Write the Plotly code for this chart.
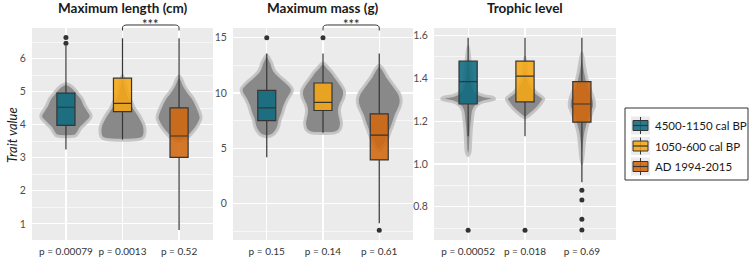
import plotly.graph_objects as go

# ---------------- data ----------------
groups = ["4500-1150 cal BP", "1050-600 cal BP", "AD 1994-2015"]
box_colors = ["rgba(14,106,128,0.88)", "rgba(245,166,20,0.88)", "rgba(210,102,14,0.88)"]
panel_titles = ["Maximum length (cm)", "Maximum mass (g)", "Trophic level"]
p_labels = [
    ["p = 0.00079", "p = 0.0013", "p = 0.52"],
    ["p = 0.15", "p = 0.14", "p = 0.61"],
    ["p = 0.00052", "p = 0.018", "p = 0.69"],
]
cat_pos = [1, 2, 3]

# box statistics (one value per group)
len_q1 = [3.98, 4.40, 3.01]
len_med = [4.53, 4.65, 3.66]
len_q3 = [4.96, 5.41, 4.51]
len_lo = [3.25, 3.55, 0.81]
len_hi = [6.40, 6.62, 6.62]
len_out = [[6.47, 6.64], [], []]

mass_q1 = [7.50, 8.42, 3.95]
mass_med = [8.66, 9.16, 6.19]
mass_q3 = [10.23, 10.90, 8.12]
mass_lo = [4.20, 6.40, -1.76]
mass_hi = [13.57, 13.57, 13.57]
mass_out = [[15.0], [15.0], [-2.41]]

tl_q1 = [1.28, 1.29, 1.195]
tl_med = [1.385, 1.41, 1.28]
tl_q3 = [1.48, 1.48, 1.385]
tl_lo = [1.13, 1.13, 0.915]
tl_hi = [1.59, 1.59, 1.59]
tl_out = [[0.69], [0.69], [0.877, 0.832, 0.742, 0.692]]

# violin outlines: value levels and half-widths (pixels at 56.5 px per category)
len_vio_y = [
    [3.64, 3.66, 3.75, 3.9, 4.05, 4.2, 4.3, 4.45, 4.6, 4.8, 4.95, 5.1, 5.2, 5.24],
    [3.53, 3.56, 3.65, 3.8, 3.95, 4.1, 4.3, 4.5, 4.7, 4.9, 5.1, 5.3, 5.5],
    [3.5, 3.6, 3.75, 3.9, 4.05, 4.2, 4.35, 4.5, 4.7, 4.85, 5.0, 5.2, 5.35, 5.48],
]
len_vio_w = [
    [0, 9, 12, 15, 20, 24.5, 25, 22, 19, 16, 12, 8, 4, 0],
    [0, 17, 21.5, 22.5, 22, 20, 16.5, 12, 9, 6, 4, 2.5, 0],
    [0, 8, 13, 17, 20, 22, 21, 19, 16, 13, 9, 5, 3, 0],
]
mass_vio_y = [
    [6.05, 6.2, 6.6, 7.0, 7.6, 8.2, 8.8, 9.4, 10.0, 10.4, 10.8, 11.2, 11.6, 12.0, 12.4, 12.8, 13.4],
    [6.35, 6.4, 6.7, 7.2, 7.6, 8.0, 8.5, 9.0, 9.6, 10.2, 10.8, 11.4, 11.8, 12.2, 12.7],
    [4.8, 5.2, 5.8, 6.5, 7.2, 8.0, 8.8, 9.4, 10.0, 10.5, 11.0, 11.5, 12.0, 12.5],
]
mass_vio_w = [
    [0, 6, 10, 12, 13.5, 16, 18, 21, 25, 25.5, 22, 17, 12, 8, 6, 4.5, 0],
    [0, 12, 17, 18.5, 18, 17, 16.5, 18, 21, 21.5, 18, 13, 10, 6, 0],
    [0, 4, 8, 11, 14, 17, 21, 22, 20, 16, 12, 8, 5, 0],
]
tl_vio_y = [
    [1.04, 1.06, 1.1, 1.15, 1.2, 1.25, 1.275, 1.29, 1.3, 1.31, 1.32, 1.335, 1.36, 1.4, 1.45, 1.5, 1.55],
    [1.215, 1.23, 1.25, 1.27, 1.29, 1.305, 1.32, 1.34, 1.37, 1.4, 1.45, 1.5],
    [1.0, 1.05, 1.1, 1.15, 1.2, 1.24, 1.27, 1.3, 1.34, 1.38, 1.42, 1.46, 1.52],
]
tl_vio_w = [
    [0, 2, 2.5, 3, 4, 5.5, 9, 15, 25, 25, 15, 8, 5, 3.5, 2.5, 1.5, 0],
    [0, 5, 10, 14, 17, 18.5, 15, 10, 6, 3, 1.5, 0],
    [0, 1.5, 2.5, 4, 7, 10, 12.5, 12, 9, 6, 4, 2.5, 0],
]

panels = [
    dict(q1=len_q1, med=len_med, q3=len_q3, lo=len_lo, hi=len_hi, out=len_out,
         vy=len_vio_y, vw=len_vio_w, yrange=[0.51, 6.93], dtick=1, tick0=0, minor=0.5,
         fmt=""),
    dict(q1=mass_q1, med=mass_med, q3=mass_q3, lo=mass_lo, hi=mass_hi, out=mass_out,
         vy=mass_vio_y, vw=mass_vio_w, yrange=[-3.28, 15.87], dtick=5, tick0=0, minor=2.5,
         fmt=""),
    dict(q1=tl_q1, med=tl_med, q3=tl_q3, lo=tl_lo, hi=tl_hi, out=tl_out,
         vy=tl_vio_y, vw=tl_vio_w, yrange=[0.645, 1.635], dtick=0.2, tick0=0, minor=0.1,
         fmt=".1f"),
]

PX_PER_CAT = 56.5
W, H = 750, 257
panel_px = [(32, 213), (233, 413), (434, 616)]
top_px, bot_px = 28, 240
FONT = "Lato"

fig = go.Figure()


def smooth_path(pts):
    # closed Catmull-Rom spline through points -> SVG path
    n = len(pts)
    d = "M %.5f,%.5f" % pts[0]
    for i in range(n):
        p0 = pts[(i - 1) % n]
        p1 = pts[i]
        p2 = pts[(i + 1) % n]
        p3 = pts[(i + 2) % n]
        c1 = (p1[0] + (p2[0] - p0[0]) / 6, p1[1] + (p2[1] - p0[1]) / 6)
        c2 = (p2[0] - (p3[0] - p1[0]) / 6, p2[1] - (p3[1] - p1[1]) / 6)
        d += " C %.5f,%.5f %.5f,%.5f %.5f,%.5f" % (c1[0], c1[1], c2[0], c2[1], p2[0], p2[1])
    return d + " Z"


def px(x):
    return x / W


def py(y):
    return 1 - y / H


shapes = []
annotations = []
for pi, P in enumerate(panels):
    sfx = "" if pi == 0 else str(pi + 1)
    xa, ya = "x" + sfx, "y" + sfx
    # violins (as shapes between grid and traces)
    for gi in range(3):
        c = cat_pos[gi]
        ys, ws = P["vy"][gi], P["vw"][gi]
        right = [(c + w / PX_PER_CAT, y) for y, w in zip(ys, ws)]
        left = [(c - w / PX_PER_CAT, y) for y, w in zip(ys, ws)][1:-1][::-1]
        pts = right + left
        shapes.append(dict(type="path", path=smooth_path(pts), xref=xa, yref=ya,
                           fillcolor="rgba(128,128,128,0.92)",
                           line=dict(color="rgba(196,196,196,0.95)", width=3),
                           layer="between"))
    # boxes
    for gi in range(3):
        fig.add_trace(go.Box(
            x=[cat_pos[gi]], q1=[P["q1"][gi]], median=[P["med"][gi]], q3=[P["q3"][gi]],
            lowerfence=[P["lo"][gi]], upperfence=[P["hi"][gi]],
            width=0.32, whiskerwidth=0, boxpoints=False,
            fillcolor=box_colors[gi], line=dict(color="#353535", width=1.2),
            name=groups[gi], legendgroup=groups[gi], showlegend=False,
            xaxis=xa, yaxis=ya, hoverinfo="skip"))
    # outliers
    for gi in range(3):
        if P["out"][gi]:
            fig.add_trace(go.Scatter(
                x=[cat_pos[gi]] * len(P["out"][gi]), y=P["out"][gi], mode="markers",
                marker=dict(color="#333333", size=5), showlegend=False,
                xaxis=xa, yaxis=ya, hoverinfo="skip"))
    x0, x1 = panel_px[pi]
    dom = [px(x0), px(x1)]
    fig.layout["xaxis" + sfx] = dict(
        domain=dom, anchor=ya, range=[0.4, 3.6], tickvals=cat_pos, ticktext=p_labels[pi],
        showgrid=True, gridcolor="white", gridwidth=1.2, zeroline=False,
        ticks="outside", ticklen=2, tickcolor="rgba(0,0,0,0)", tickangle=0,
        automargin=False,
        tickfont=dict(family=FONT, size=10, color="#333333"), fixedrange=True)
    fig.layout["yaxis" + sfx] = dict(
        domain=[py(bot_px), py(top_px)], anchor=xa, range=P["yrange"],
        dtick=P["dtick"], tick0=P["tick0"], tickformat=P["fmt"], showgrid=True,
        gridcolor="white", gridwidth=1.2, zeroline=False, ticks="outside", ticklen=3,
        tickcolor="rgba(0,0,0,0)", automargin=False,
        minor=dict(dtick=P["minor"], tick0=0, showgrid=True, gridcolor="white", gridwidth=0.6),
        tickfont=dict(family=FONT, size=10.5, color="#4d4d4d"), fixedrange=True)
    # panel background
    shapes.append(dict(type="rect", xref="paper", yref="paper", x0=dom[0], x1=dom[1],
                       y0=py(bot_px), y1=py(top_px), fillcolor="#ebebeb",
                       line=dict(width=0), layer="below"))
    annotations.append(dict(text="<b>%s</b>" % panel_titles[pi], x=(dom[0] + dom[1]) / 2,
                            y=py(8), xref="paper", yref="paper", showarrow=False,
                            xanchor="center", yanchor="middle",
                            font=dict(family=FONT, size=13.5, color="#1a1a1a")))

# significance brackets (panels 1 and 2, groups 2 vs 3)
for pi in (0, 1):
    sfx = "" if pi == 0 else str(pi + 1)
    a, b = cat_pos[1], cat_pos[2]
    yt, yc, ye = py(25), py(28), py(30.5)
    r = 0.08
    path = ("M %f,%f L %f,%f Q %f,%f %f,%f L %f,%f Q %f,%f %f,%f L %f,%f" %
            (a, ye, a, yc, a, yt, a + r, yt, b - r, yt, b, yt, b, yc, b, ye))
    shapes.append(dict(type="path", path=path, xref="x" + sfx, yref="paper",
                       line=dict(color="#333333", width=1)))
    annotations.append(dict(text="***", x=(a + b) / 2, xref="x" + sfx, y=py(24),
                            yref="paper", showarrow=False, xanchor="center",
                            yanchor="middle",
                            font=dict(family=FONT, size=13, color="#1a1a1a")))

annotations.append(dict(text="<i>Trait value</i>", x=px(12), y=py(135), xref="paper",
                        yref="paper", textangle=-90, showarrow=False,
                        xanchor="center", yanchor="middle",
                        font=dict(family=FONT, size=13, color="#1a1a1a")))

# legend (ggplot-style keys)
leg_x0, leg_x1, leg_y0, leg_y1 = 625, 748, 108, 180
shapes.append(dict(type="rect", xref="paper", yref="paper", x0=px(leg_x0), x1=px(leg_x1),
                   y0=py(leg_y1), y1=py(leg_y0), fillcolor="white",
                   line=dict(color="#333333", width=1)))
item_cy = [125.5, 146, 166.5]
for gi in range(3):
    cy = item_cy[gi]
    shapes.append(dict(type="rect", xref="paper", yref="paper", x0=px(631), x1=px(650),
                       y0=py(cy + 9), y1=py(cy - 9), fillcolor="#ebebeb",
                       line=dict(width=0)))
    shapes.append(dict(type="line", xref="paper", yref="paper", x0=px(640.5), x1=px(640.5),
                       y0=py(cy + 8.5), y1=py(cy - 8.5), line=dict(color="#353535", width=1)))
    shapes.append(dict(type="rect", xref="paper", yref="paper", x0=px(633), x1=px(648),
                       y0=py(cy + 5), y1=py(cy - 5), fillcolor=box_colors[gi],
                       line=dict(color="#353535", width=1)))
    shapes.append(dict(type="line", xref="paper", yref="paper", x0=px(633), x1=px(648),
                       y0=py(cy), y1=py(cy), line=dict(color="#353535", width=1.2)))
    annotations.append(dict(text=groups[gi], x=px(653), y=py(cy), xref="paper",
                            yref="paper", showarrow=False, xanchor="left",
                            yanchor="middle",
                            font=dict(family=FONT, size=11.5, color="#1a1a1a")))

fig.update_layout(
    width=W, height=H, margin=dict(l=0, r=0, t=0, b=0),
    paper_bgcolor="white", plot_bgcolor="rgba(0,0,0,0)",
    boxmode="overlay", shapes=shapes, annotations=annotations,
    showlegend=False, font=dict(family=FONT),
)

fig.write_html("out.html", config={"displayModeBar": False, "staticPlot": True},
               post_script="document.body.style.margin='0';"
               "document.body.style.overflow='hidden';")
